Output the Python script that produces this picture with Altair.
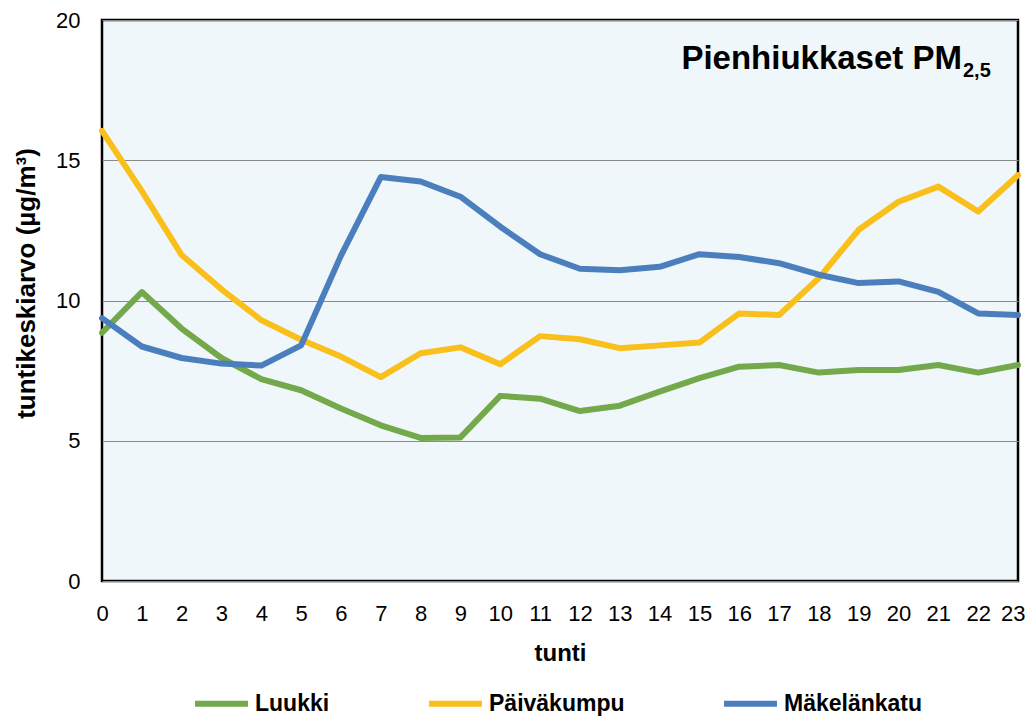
import altair as alt
import pandas as pd

hours = list(range(24))
series_names = ["Luukki", "Päiväkumpu", "Mäkelänkatu"]
luukki = [8.85, 10.3, 9.0, 7.95, 7.2, 6.8, 6.15, 5.55, 5.1, 5.12, 6.6, 6.5, 6.06, 6.25, 6.75, 7.23, 7.64, 7.7, 7.43, 7.52, 7.52, 7.7, 7.43, 7.7]
paivakumpu = [16.05, 13.9, 11.62, 10.4, 9.3, 8.6, 8.0, 7.27, 8.12, 8.33, 7.73, 8.73, 8.62, 8.3, 8.4, 8.5, 9.54, 9.48, 10.8, 12.52, 13.52, 14.06, 13.17, 14.47]
makelankatu = [9.37, 8.36, 7.95, 7.75, 7.68, 8.4, 11.6, 14.4, 14.24, 13.7, 12.63, 11.65, 11.13, 11.08, 11.2, 11.65, 11.55, 11.33, 10.92, 10.62, 10.68, 10.31, 9.54, 9.48]
colors = ["#73A94B", "#F9BF1B", "#4B7EBC"]
y_ticks = [0, 5, 10, 15, 20]

rows = []
for name, vals in zip(series_names, [luukki, paivakumpu, makelankatu]):
    for h, v in zip(hours, vals):
        rows.append({"tunti": h, "arvo": v, "asema": name})
df = pd.DataFrame(rows)

FONT = "Liberation Sans"

lines = alt.Chart(df).mark_line(strokeWidth=6, strokeJoin="round", strokeCap="round").encode(
    x=alt.X("tunti:Q", scale=alt.Scale(domain=[0, 23], nice=False, zero=False),
            axis=alt.Axis(values=hours, labelAngle=0, grid=False, ticks=False, domain=False,
                          labelPadding=22, labelFontSize=22, labelColor="#000000", labelFont=FONT,
                          labelAlign={"condition": {"test": "datum.value == 23", "value": "right"}, "value": "center"},
                          labelOffset={"condition": {"test": "datum.value == 23", "value": 7}, "value": 0},
                          title="tunti", titleFontSize=24, titleFontWeight="bold", titleFont=FONT,
                          titleColor="#000000", titlePadding=17, labelFlush=False)),
    y=alt.Y("arvo:Q", scale=alt.Scale(domain=[0, 20], nice=False),
            axis=alt.Axis(values=y_ticks, grid=True, gridColor="#8A8A8A", gridWidth=1,
                          ticks=False, domain=False, labelPadding=22, labelFontSize=22,
                          labelColor="#000000", labelFont=FONT,
                          title="tuntikeskiarvo (µg/m³)", titleFontSize=26, titleFontWeight="bold",
                          titleFont=FONT, titleColor="#000000", titleX=-76, titleY=263,
                          titleAngle=270, titleAlign="center", titleBaseline="middle")),
    color=alt.Color("asema:N", scale=alt.Scale(domain=series_names, range=colors),
                    legend=alt.Legend(title=None, orient="none", legendX=90, legendY=654,
                                      direction="horizontal", symbolType="stroke",
                                      symbolStrokeWidth=6, symbolSize=2800, labelOffset=4,
                                      columnPadding=87, labelFontSize=23, labelFontWeight="bold",
                                      labelFont=FONT, labelColor="#000000", labelLimit=300)),
    order="tunti:Q",
)

title_main = alt.Chart(pd.DataFrame({"t": ["Pienhiukkaset PM"]})).mark_text(
    align="right", baseline="alphabetic", fontSize=33, fontWeight="bold", font=FONT, color="#000000"
).encode(x=alt.value(860), y=alt.value(49), text="t:N")

title_sub = alt.Chart(pd.DataFrame({"t": ["2,5"]})).mark_text(
    align="left", baseline="alphabetic", fontSize=20, fontWeight="bold", font=FONT, color="#000000"
).encode(x=alt.value(861), y=alt.value(57), text="t:N")

chart = alt.layer(lines, title_main, title_sub).properties(
    width=916, height=561,
    autosize=alt.AutoSizeParams(type="none"),
    padding={"left": 94, "top": 12, "right": 8, "bottom": 135},
    background="#FFFFFF",
).configure_view(fill="#F0F7FA", stroke="#000000", strokeWidth=2.5)

chart.save("out.html", embed_options={"renderer": "svg", "actions": False})
